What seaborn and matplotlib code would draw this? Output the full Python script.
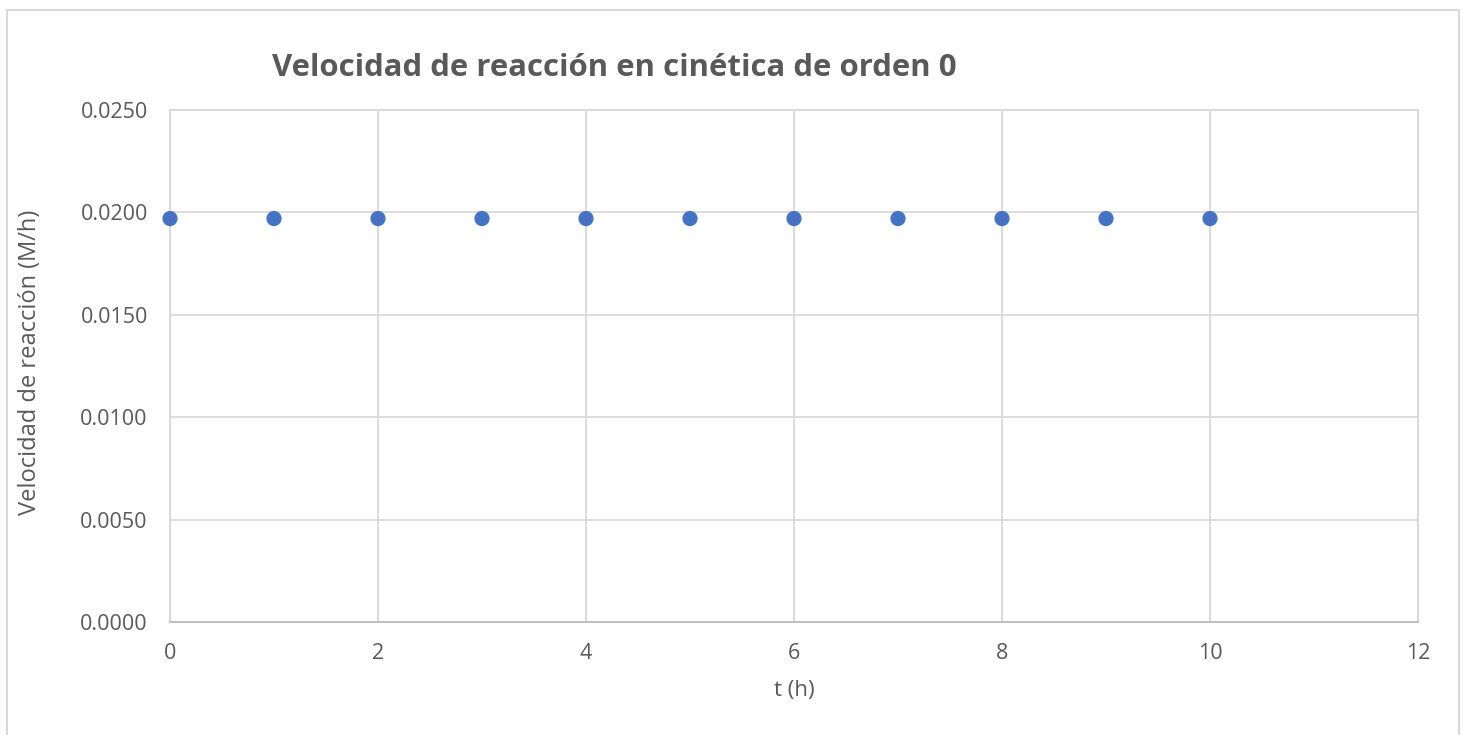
import numpy as np
import pandas as pd
import matplotlib
matplotlib.use("Agg")
import matplotlib.pyplot as plt
import seaborn as sns
from matplotlib.patches import Rectangle

# data
t_h = [0, 1, 2, 3, 4, 5, 6, 7, 8, 9, 10]
velocidad = [0.0197] * 11
x_ticks = [0, 2, 4, 6, 8, 10, 12]
y_ticks = [0.0, 0.005, 0.010, 0.015, 0.020, 0.025]

df = pd.DataFrame({"t": t_h, "v": velocidad})

sns.set_style("white")
plt.rcParams["font.family"] = ["Open Sans", "DejaVu Sans"]

txt = "#595959"
grid = "#d9d9d9"

fig = plt.figure(figsize=(14.63, 7.35), dpi=100)
ax = fig.add_axes([170 / 1463, 1 - 622 / 735, (1418 - 170) / 1463, (622 - 110) / 735])

sns.scatterplot(data=df, x="t", y="v", ax=ax, color="#4472C4", s=120,
                edgecolor="none", zorder=3, clip_on=False)

ax.set_xlim(0, 12)
ax.set_ylim(0, 0.025)
ax.set_xticks(x_ticks)
ax.set_yticks(y_ticks)
ax.set_yticklabels([f"{v:.4f}" for v in y_ticks])
ax.grid(True, color=grid, linewidth=1.3)
ax.tick_params(length=0, labelsize=15.5, labelcolor=txt)
ax.tick_params(axis="x", pad=15)
ax.tick_params(axis="y", pad=16)
for side in ["top", "right", "left"]:
    ax.spines[side].set_color(grid)
    ax.spines[side].set_linewidth(1.3)
ax.spines["bottom"].set_color("#bfbfbf")
ax.spines["bottom"].set_linewidth(1.5)

ax.set_xlabel("t (h)", fontsize=16, color=txt)
ax.set_ylabel("Velocidad de reacción (M/h)", fontsize=17, color=txt)
ax.xaxis.set_label_coords(0.5, -0.113)
ax.yaxis.set_label_coords(-0.1026, 0.508)

fig.text(614 / 1463, 1 - 68 / 735, "Velocidad de reacción en cinética de orden 0",
         ha="center", va="center", fontsize=22.4, fontweight="bold", color=txt)

# outer chart border
fig.patches.append(Rectangle((7 / 1463, -0.02), (1459 - 7) / 1463, 0.02 + 1 - 10 / 735,
                             transform=fig.transFigure, fill=False,
                             edgecolor=grid, linewidth=1.5))

fig.savefig("out.png", dpi=100)
